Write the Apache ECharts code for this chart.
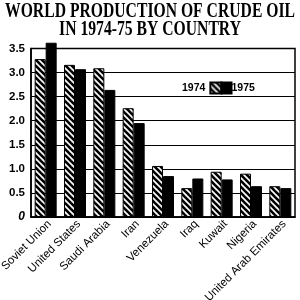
<!DOCTYPE html>
<html>
<head>
<meta charset="utf-8">
<script src="https://cdn.jsdelivr.net/npm/echarts@6/dist/echarts.min.js"></script>
<style>html,body{margin:0;padding:0;background:#fff}#c{width:300px;height:300px}</style>
</head>
<body>
<div id="c"></div>
<script>
const categories = ['Soviet Union','United States','Saudi Arabia','Iran','Venezuela','Iraq','Kuwait','Nigeria','United Arab Emirates'];
const values1974 = [3.28, 3.16, 3.09, 2.26, 1.06, 0.60, 0.94, 0.90, 0.64];
const values1975 = [3.62, 3.07, 2.64, 1.95, 0.85, 0.80, 0.78, 0.64, 0.60];
const seriesNames = ['1974', '1975'];
const titleLines = ['WORLD PRODUCTION OF CRUDE OIL', 'IN 1974-75 BY COUNTRY'];

function hatch() {
  const s = 6;
  const c = document.createElement('canvas');
  c.width = s; c.height = s;
  const g = c.getContext('2d');
  g.fillStyle = '#fff'; g.fillRect(0, 0, s, s);
  g.strokeStyle = '#000'; g.lineWidth = 2.6;
  for (const x0 of [-s, 0, s]) {
    g.beginPath(); g.moveTo(x0 - 1, -1); g.lineTo(x0 + s + 1, s + 1); g.stroke();
  }
  return c;
}
const hatchFill = { image: hatch(), repeat: 'repeat' };

const titleFont = 'bold 21px "Liberation Serif"';
const mc = document.createElement('canvas').getContext('2d');
mc.font = titleFont;
const w1 = mc.measureText(titleLines[0]).width;
const tScale = 290 / w1;

const chart = echarts.init(document.getElementById('c'), null, { renderer: 'canvas' });
chart.setOption({
  animation: false,
  backgroundColor: '#fff',
  graphic: [
    { type: 'text', x: 150, y: 1, scaleX: tScale, style: { text: titleLines[0], font: titleFont, fill: '#000', align: 'center', verticalAlign: 'top' } },
    { type: 'text', x: 150, y: 19.5, scaleX: tScale, style: { text: titleLines[1], font: titleFont, fill: '#000', align: 'center', verticalAlign: 'top' } }
  ],
  legend: [
    { data: [seriesNames[0]], left: 182, top: 81.5, padding: 0, align: 'right', icon: 'rect', itemWidth: 11, itemHeight: 11, itemGap: 0, selectedMode: false,
      textStyle: { fontFamily: 'Liberation Sans', fontWeight: 'bold', fontSize: 10.5, color: '#000' } },
    { data: [seriesNames[1]], left: 220.5, top: 81.5, padding: 0, align: 'left', icon: 'rect', itemWidth: 10, itemHeight: 11, itemGap: 0, selectedMode: false,
      textStyle: { fontFamily: 'Liberation Sans', fontWeight: 'bold', fontSize: 10.5, color: '#000', padding: [0, 0, 0, -5] } }
  ],
  grid: { left: 31, right: 5, top: 48.5, bottom: 83, show: true, borderColor: '#000', borderWidth: 1.5, backgroundColor: '#fff',
    containLabel: false, outerBoundsMode: 'none' },
  xAxis: {
    type: 'category', data: categories,
    axisLine: { lineStyle: { color: '#000', width: 1.5 } },
    axisTick: { show: false },
    axisLabel: { rotate: 45, margin: 9, interval: 0, color: '#000', fontFamily: 'Liberation Sans', fontSize: 11.5, padding: [0, -5.5, 0, 0] }
  },
  yAxis: {
    type: 'value', min: 0, max: 3.5, interval: 0.5,
    axisLine: { show: true, lineStyle: { color: '#000', width: 1.5 } },
    axisTick: { show: false },
    splitLine: { lineStyle: { color: '#000', width: 1 } },
    axisLabel: {
      margin: 6, color: '#000', fontFamily: 'Liberation Sans', fontWeight: 'bold', fontSize: 11.5,
      formatter: v => v === 0 ? '{i|0}' : v.toFixed(1),
      rich: { i: { fontStyle: 'italic', fontWeight: 'bold', fontSize: 12, fontFamily: 'Liberation Sans', color: '#000' } }
    }
  },
  series: [
    { name: seriesNames[0], type: 'bar', data: values1974, clip: false, barWidth: 11, barGap: '0%',
      itemStyle: { color: hatchFill, borderColor: '#000', borderWidth: 1 } },
    { name: seriesNames[1], type: 'bar', data: values1975, clip: false, barWidth: 11, barGap: '0%',
      itemStyle: { color: '#000', borderColor: '#000', borderWidth: 1 } }
  ]
});
</script>
</body>
</html>
